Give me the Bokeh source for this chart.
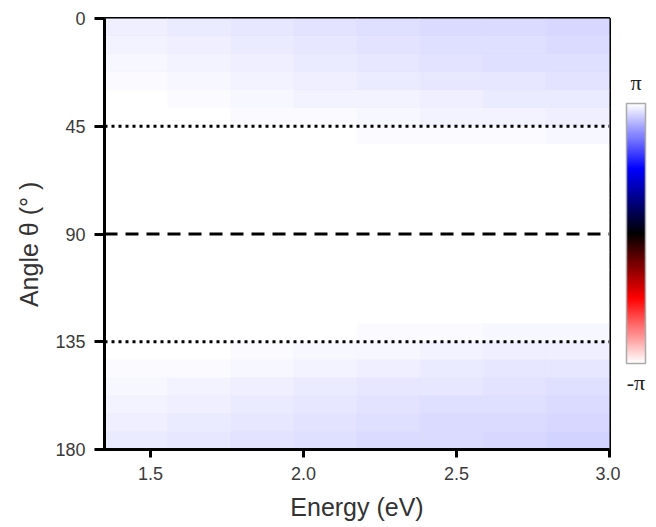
import numpy as np
from bokeh.plotting import figure
from bokeh.layouts import row
from bokeh.core.properties import value
from bokeh.models import (LinearColorMapper, ColorBar, FixedTicker, Span,
                          Range1d, ColumnDataSource)
from bokeh.transform import transform
from bokeh.embed import file_html
from bokeh.resources import INLINE

# ---- data ----
energy_min, energy_max = 1.35, 3.0
n_energy = 8
angle_min, angle_max = 0.0, 180.0
angle_step = 7.5
x_ticks = [1.5, 2.0, 2.5, 3.0]
x_tick_labels = ["1.5", "2.0", "2.5", "3.0"]
y_ticks = [0, 45, 90, 135, 180]
dotted_angles = [45, 135]
dashed_angles = [90]
colorbar_labels = ["π", "-π"]

# phase in units of pi; rows = angle bins from 0 deg down to 180 deg, cols = energy bins
phase_over_pi = [
    [0.964, 0.956, 0.948, 0.941, 0.935, 0.929, 0.924, 0.920],
    [0.970, 0.962, 0.954, 0.947, 0.941, 0.935, 0.930, 0.926],
    [0.978, 0.970, 0.962, 0.955, 0.948, 0.942, 0.937, 0.933],
    [0.987, 0.980, 0.972, 0.965, 0.958, 0.952, 0.947, 0.943],
    [0.994, 0.989, 0.982, 0.976, 0.969, 0.963, 0.958, 0.954],
    [0.998, 0.995, 0.991, 0.986, 0.980, 0.975, 0.970, 0.966],
    [1.000, 0.999, 0.997, 0.995, 0.992, 0.989, 0.986, 0.983],
    [1.000, 1.000, 1.000, 0.999, 0.998, 0.997, 0.995, 0.994],
    [1.000, 1.000, 1.000, 1.000, 1.000, 1.000, 0.999, 0.999],
    [1.000, 1.000, 1.000, 1.000, 1.000, 1.000, 1.000, 1.000],
    [1.000, 1.000, 1.000, 1.000, 1.000, 1.000, 1.000, 1.000],
    [1.000, 1.000, 1.000, 1.000, 1.000, 1.000, 1.000, 1.000],
    [1.000, 1.000, 1.000, 1.000, 1.000, 1.000, 1.000, 1.000],
    [1.000, 1.000, 1.000, 1.000, 1.000, 1.000, 1.000, 1.000],
    [1.000, 1.000, 1.000, 1.000, 1.000, 1.000, 1.000, 1.000],
    [1.000, 1.000, 1.000, 1.000, 1.000, 1.000, 0.999, 0.999],
    [1.000, 1.000, 1.000, 0.999, 0.998, 0.997, 0.995, 0.993],
    [1.000, 0.999, 0.997, 0.994, 0.991, 0.988, 0.984, 0.981],
    [0.998, 0.994, 0.989, 0.984, 0.978, 0.972, 0.967, 0.963],
    [0.992, 0.986, 0.978, 0.971, 0.965, 0.959, 0.953, 0.949],
    [0.984, 0.975, 0.967, 0.960, 0.953, 0.947, 0.941, 0.937],
    [0.975, 0.966, 0.957, 0.950, 0.943, 0.937, 0.931, 0.927],
    [0.966, 0.957, 0.948, 0.941, 0.935, 0.929, 0.923, 0.919],
    [0.959, 0.950, 0.941, 0.934, 0.928, 0.922, 0.917, 0.913],
]

# ---- build cell table ----
dE = (energy_max - energy_min) / n_energy
xs, ys, vs = [], [], []
for i, r in enumerate(phase_over_pi):
    for j, v in enumerate(r):
        xs.append(energy_min + (j + 0.5) * dE)
        ys.append(angle_min + (i + 0.5) * angle_step)
        vs.append(v * np.pi)
src = ColumnDataSource(dict(x=xs, y=ys, v=vs))

# colormap: -pi white -> red -> black -> blue -> white (pi)
anchors = [(255, 255, 255), (255, 0, 0), (0, 0, 0), (0, 0, 255), (255, 255, 255)]
palette = []
N = 256
for k in range(N):
    f = k / (N - 1) * 4
    s = min(int(f), 3)
    t = f - s
    c0, c1 = anchors[s], anchors[s + 1]
    rgb = [int(round(c0[m] + (c1[m] - c0[m]) * t)) for m in range(3)]
    palette.append("#%02x%02x%02x" % tuple(rgb))
mapper = LinearColorMapper(palette=palette, low=-np.pi, high=np.pi)

W, H = 656, 527
main_w = 620
top_b, bot_b = 18, 78
p = figure(width=main_w, height=H, output_backend="svg", toolbar_location=None,
           x_range=Range1d(energy_min, energy_max),
           y_range=Range1d(angle_max, angle_min),
           min_border_left=104, min_border_right=11,
           min_border_top=top_b, min_border_bottom=bot_b)
p.title.visible = False

p.rect(x="x", y="y", width=dE, height=angle_step, source=src,
       fill_color=transform("v", mapper), line_color=transform("v", mapper),
       line_width=0.6)

for a in dotted_angles:
    p.add_layout(Span(location=a, dimension="width", line_color="black",
                      line_width=3, line_dash="3 4"))
for a in dashed_angles:
    p.add_layout(Span(location=a, dimension="width", line_color="black",
                      line_width=3, line_dash="13 8"))

p.grid.visible = False
p.background_fill_color = "white"
p.outline_line_color = "black"
p.outline_line_width = 3
p.outline_line_alpha = 1

p.xaxis.ticker = FixedTicker(ticks=x_ticks)
p.xaxis.major_label_overrides = {t: l for t, l in zip(x_ticks, x_tick_labels)}
p.yaxis.ticker = FixedTicker(ticks=y_ticks)
p.xaxis.axis_label = "Energy (eV)"
p.yaxis.axis_label = "Angle θ (°    )"
for ax in (p.xaxis, p.yaxis):
    ax.axis_line_width = 3
    ax.axis_line_color = "black"
    ax.major_tick_line_width = 3
    ax.major_tick_line_color = "black"
    ax.major_tick_in = 0
    ax.minor_tick_line_color = None
    ax.major_label_text_font = "Liberation Sans"
    ax.major_label_text_font_size = "18px"
    ax.major_label_text_color = "#3a3a3a"
    ax.axis_label_text_font = "Liberation Sans"
    ax.axis_label_text_font_size = "25px"
    ax.axis_label_text_font_style = "normal"
    ax.axis_label_text_color = "#333333"
p.xaxis.major_tick_out = 8
p.yaxis.major_tick_out = 10
p.xaxis.major_label_standoff = 9
p.yaxis.major_label_standoff = 9
p.xaxis.axis_label_standoff = 10
p.yaxis.axis_label_standoff = 9

# ---- colour bar panel (frame aligned with main plot; page-pixel coords) ----
cbw = W - main_w
frame_top, frame_bot = top_b, H - bot_b
q = figure(width=cbw, height=H, output_backend="svg", toolbar_location=None,
           x_range=Range1d(main_w, W), y_range=Range1d(frame_bot, frame_top),
           min_border_left=0, min_border_right=0,
           min_border_top=top_b, min_border_bottom=bot_b)
q.axis.visible = False
q.grid.visible = False
q.outline_line_color = None
q.title.visible = False
bar_left, bar_top, bar_w, bar_h = 626, 103, 19, 260
cb = ColorBar(color_mapper=mapper, width=bar_w, height=bar_h,
              location=(bar_left - main_w, frame_bot - (bar_top + bar_h)),
              ticker=FixedTicker(ticks=[]), major_label_text_font_size="0px",
              major_tick_line_color=None, minor_tick_line_color=None,
              bar_line_color="#aaaaaa", bar_line_width=1.5,
              border_line_color=None, background_fill_color=None, padding=0)
q.add_layout(cb, "center")
q.text(x=[bar_left + bar_w / 2] * 2, y=[bar_top - 21, bar_top + bar_h + 19],
       text=colorbar_labels, text_align="center", text_baseline="middle",
       text_font=value("Liberation Serif"), text_font_size="22px",
       text_color="#222222")

layout = row(p, q, spacing=0)
open("out.html", "w").write(file_html(layout, INLINE))
